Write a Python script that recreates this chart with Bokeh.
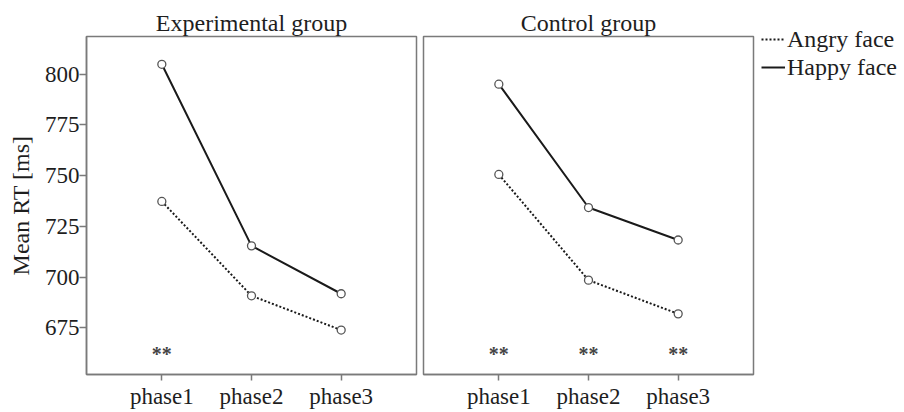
from bokeh.plotting import figure
from bokeh.layouts import row, column
from bokeh.models import Legend, LegendItem, FactorRange, Range1d, Spacer
from bokeh.core.properties import value
from bokeh.embed import file_html
from bokeh.resources import INLINE

phases = ["phase1", "phase2", "phase3"]
exp_angry = [737.3, 690.8, 673.9]
exp_happy = [804.9, 715.4, 691.8]
ctl_angry = [750.6, 698.5, 681.9]
ctl_happy = [795.1, 734.3, 718.3]
exp_sig_x = ["phase1"]
exp_sig = ["**"]
ctl_sig_x = ["phase1", "phase2", "phase3"]
ctl_sig = ["**", "**", "**"]
sig_y = 662
y_ticks = [675, 700, 725, 750, 775, 800]
legend_labels = ["Angry face", "Happy face"]

FONT = "Liberation Serif"
TXT = "#1e1e1e"
BOX = "#7a7a7a"
LINE = "#1a1a1a"
H = 411
TOP = 36
BOT = 35


def make_fig(title, width, mb_left, mb_right):
    p = figure(width=width, height=H, output_backend="svg", toolbar_location=None,
               x_range=FactorRange(factors=phases, range_padding=0.34, range_padding_units="absolute"),
               y_range=Range1d(652, 818.6),
               min_border_left=mb_left, min_border_right=mb_right,
               min_border_top=TOP, min_border_bottom=BOT)
    p.title.text = title
    p.title.align = "center"
    p.title.text_font = FONT
    p.title.text_font_size = "24px"
    p.title.text_font_style = "normal"
    p.title.text_color = TXT
    p.title.standoff = 2
    p.xgrid.visible = False
    p.ygrid.visible = False
    p.outline_line_color = BOX
    p.outline_line_width = 1.5
    p.background_fill_color = "white"
    p.border_fill_color = "white"
    for ax in (p.xaxis[0], p.yaxis[0]):
        ax.axis_line_color = BOX
        ax.axis_line_width = 1.5
        ax.major_tick_line_color = BOX
        ax.major_tick_line_width = 1.5
        ax.major_tick_out = 7
        ax.major_tick_in = 0
        ax.minor_tick_line_color = None
        ax.major_label_text_font = FONT
        ax.major_label_text_font_size = "23px"
        ax.major_label_text_color = TXT
    p.xaxis.major_label_standoff = 3
    p.xaxis.major_tick_out = 6
    p.yaxis.ticker = y_ticks
    p.yaxis.major_label_standoff = 0
    return p


def draw(p, angry, happy, sx, st):
    la = p.line(phases, angry, line_color=LINE, line_width=2, line_dash="2 2")
    lh = p.line(phases, happy, line_color=LINE, line_width=2)
    for vals in (angry, happy):
        p.scatter(phases, vals, marker="circle", size=8, line_color="#555555",
                  line_width=1.3, fill_color="white")
    p.text(sx, [sig_y] * len(sx), text=st, text_align="center", text_baseline="middle",
           text_font=value(FONT), text_font_size="20px", text_font_style="bold",
           text_color="#444444")
    return la, lh


p1 = make_fig("Experimental group", 419, 86, 3)
p1.yaxis.axis_label = "Mean RT [ms]"
p1.yaxis.axis_label_text_font = FONT
p1.yaxis.axis_label_text_font_size = "24px"
p1.yaxis.axis_label_text_font_style = "normal"
p1.yaxis.axis_label_text_color = TXT
p1.yaxis.axis_label_standoff = 8
draw(p1, exp_angry, exp_happy, exp_sig_x, exp_sig)

p2 = make_fig("Control group", 336, 4, 2)
p2.yaxis.visible = False
draw(p2, ctl_angry, ctl_happy, ctl_sig_x, ctl_sig)

# legend panel: same series drawn off-range (invisible), only the legend shows
p3 = figure(width=145, height=60, output_backend="svg", toolbar_location=None,
            min_border_left=0, min_border_right=0, min_border_top=0, min_border_bottom=0,
            x_range=FactorRange(factors=phases), y_range=Range1d(0, 1))
p3.axis.visible = False
p3.xgrid.visible = False
p3.ygrid.visible = False
p3.outline_line_color = None
p3.border_fill_color = "white"
p3.background_fill_color = "white"
ra = p3.line(phases, ctl_angry, line_color=LINE, line_width=2, line_dash="2 2")
rh = p3.line(phases, ctl_happy, line_color=LINE, line_width=2)
legend = Legend(items=[LegendItem(label=legend_labels[0], renderers=[ra]),
                       LegendItem(label=legend_labels[1], renderers=[rh])],
                location="top_left", orientation="vertical",
                glyph_width=24, glyph_height=28, label_height=28, label_standoff=2,
                spacing=0, padding=0, margin=0,
                border_line_color=None, background_fill_alpha=0,
                label_text_font=FONT, label_text_font_size="24px", label_text_color=TXT)
p3.add_layout(legend)

legend_col = column(Spacer(height=25, width=145), row(Spacer(width=6, height=60), p3))
layout = row(p1, p2, legend_col)
open("out.html", "w").write(file_html(layout, INLINE))
